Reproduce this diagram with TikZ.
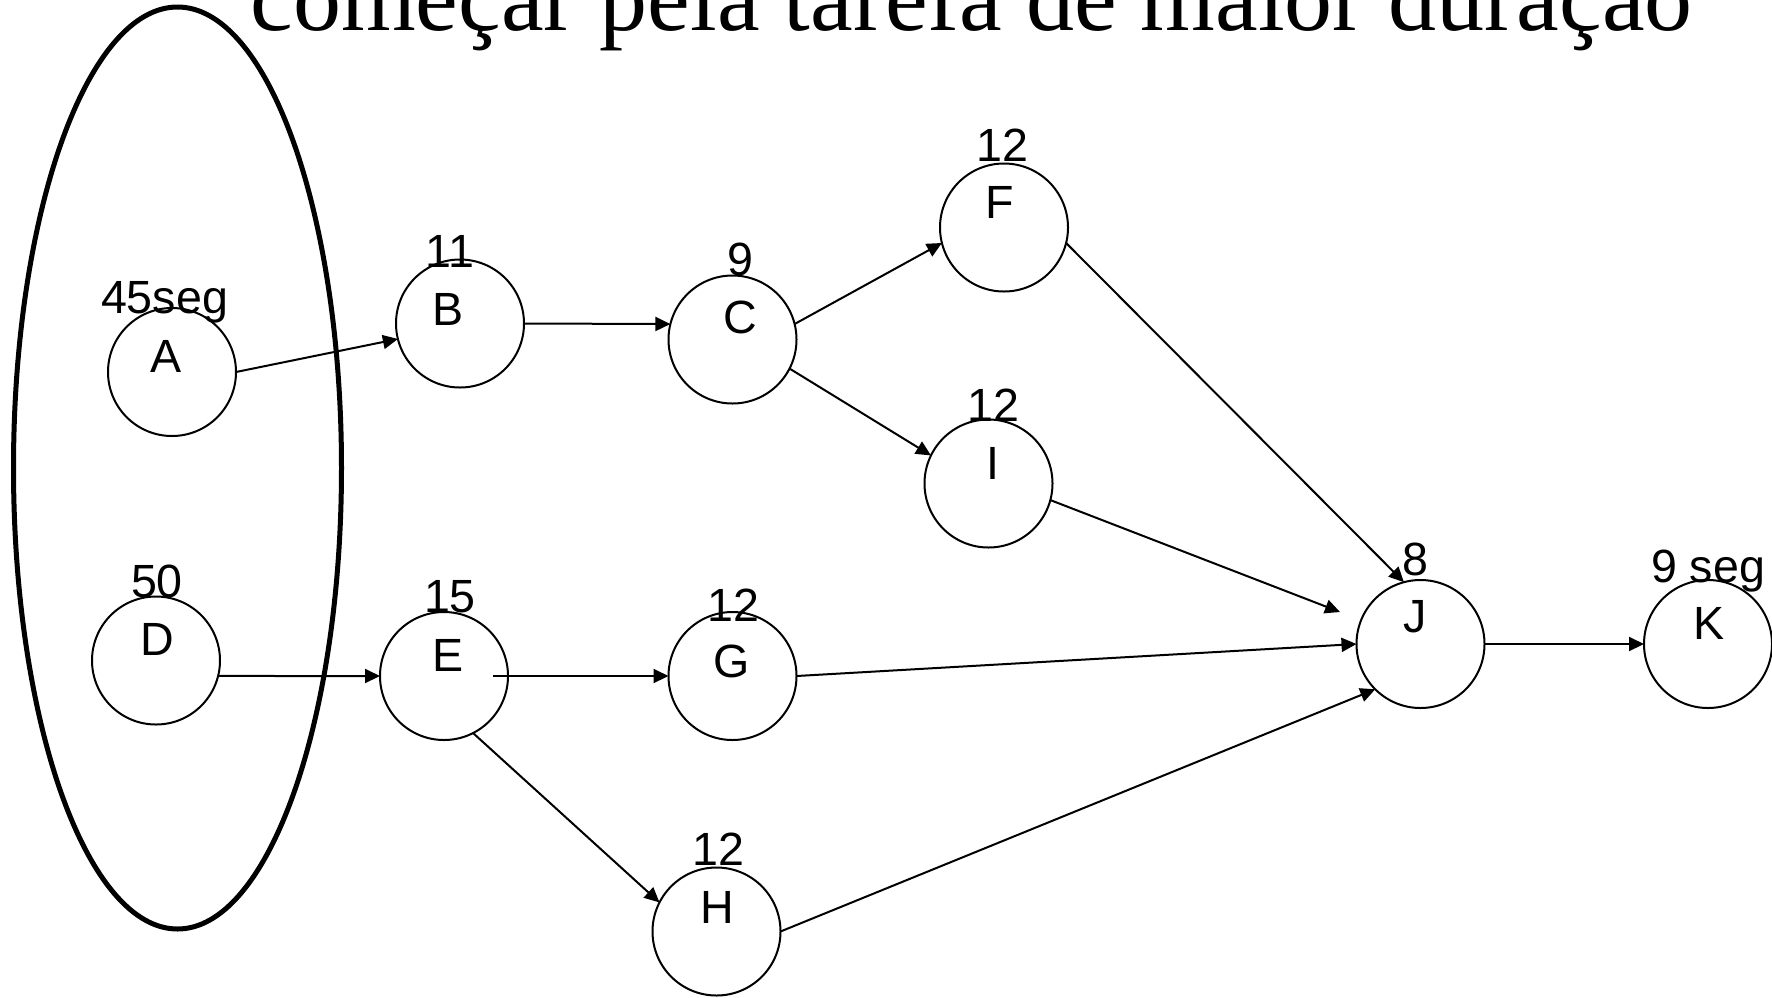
\documentclass[tikz,border=0pt]{standalone}
\usepackage{fontspec}
\setmainfont{Liberation Serif}
\newfontfamily\arialf{Liberation Sans}
\usetikzlibrary{arrows.meta,calc}
\begin{document}
\begin{tikzpicture}[x=0.5pt,y=-0.5pt,
  task/.style={circle,draw,line width=1pt,minimum size=64pt,inner sep=0pt,outer sep=0pt},
  lbl/.style={inner sep=0pt,anchor=base,font=\arialf\fontsize{23.3}{28}\selectfont},
  ttl/.style={inner sep=0pt,anchor=base,font=\fontsize{48}{56}\selectfont},
  arr/.style={line width=1pt,-{Triangle[length=7.5pt,width=7pt]}},
  grp/.style={line width=2.5pt}]
\useasboundingbox (0,0) rectangle (1772,997);
\fill[white] (0,0) rectangle (1772,997);
% title
\node[ttl] (title) at (971.5,30) {começar pela tarefa de maior duração};
% group ellipse
\draw[grp] (177.5,468) ellipse [x radius=164, y radius=461];
% task circles
\node[task] (A) at (172,372) {};
\node[task] (B) at (460,323.5) {};
\node[task] (C) at (732.5,339.5) {};
\node[task] (F) at (1004,227.5) {};
\node[task] (I) at (988.5,483.5) {};
\node[task] (D) at (156,660.5) {};
\node[task] (E) at (444,676) {};
\node[task] (G) at (732.5,676) {};
\node[task] (H) at (716.5,931.5) {};
\node[task] (J) at (1420.5,644) {};
\node[task] (K) at (1708,644) {};
% letters
\node[lbl] (At) at (166,372) {A};
\node[lbl] (Bt) at (448,325) {B};
\node[lbl] (Ct) at (740,333) {C};
\node[lbl] (Ft) at (1000,218) {F};
\node[lbl] (It) at (993,479) {I};
\node[lbl] (Dt) at (157,655) {D};
\node[lbl] (Et) at (448,671) {E};
\node[lbl] (Gt) at (732,677) {G};
\node[lbl] (Ht) at (717,923) {H};
\node[lbl] (Jt) at (1415,632) {J};
\node[lbl] (Kt) at (1709,639) {K};
% durations
\node[lbl] (An) at (164.5,313) {45seg};
\node[lbl] (Bn) at (450,267) {11};
\node[lbl] (Cn) at (740,275) {9};
\node[lbl] (Fn) at (1002,161) {12};
\node[lbl] (In) at (993,421) {12};
\node[lbl] (Dn) at (157,597) {50};
\node[lbl] (En) at (450,612) {15};
\node[lbl] (Gn) at (733,621) {12};
\node[lbl] (Hn) at (718,865) {12};
\node[lbl] (Jn) at (1415,575) {8};
\node[lbl] (Kn) at (1708,582) {9 seg};
% free ends
\coordinate (Jin) at ($(J)+(-80.5,-32)$);
\coordinate (Eout) at ($(E)+(49,0)$);
% connectors
\draw[arr] (A.east) -- (B.194);
\draw[arr] (B.east) -- (C.166);
\draw[arr] (C.14) -- (F.194);
\draw[arr] (C.333) -- (I.154);
\draw[arr] (F.346) -- (J.105);
\draw[arr] (I.345) -- (Jin);
\draw[arr] (G.east) -- (J.west);
\draw[arr] (H.east) -- (J.225);
\draw[arr] (J.east) -- (K.west);
\draw[arr] (D.346) -- (E.west);
\draw[arr] (Eout) -- (G.west);
\draw[arr] (E.297) -- (H.153);
\end{tikzpicture}
\end{document}
